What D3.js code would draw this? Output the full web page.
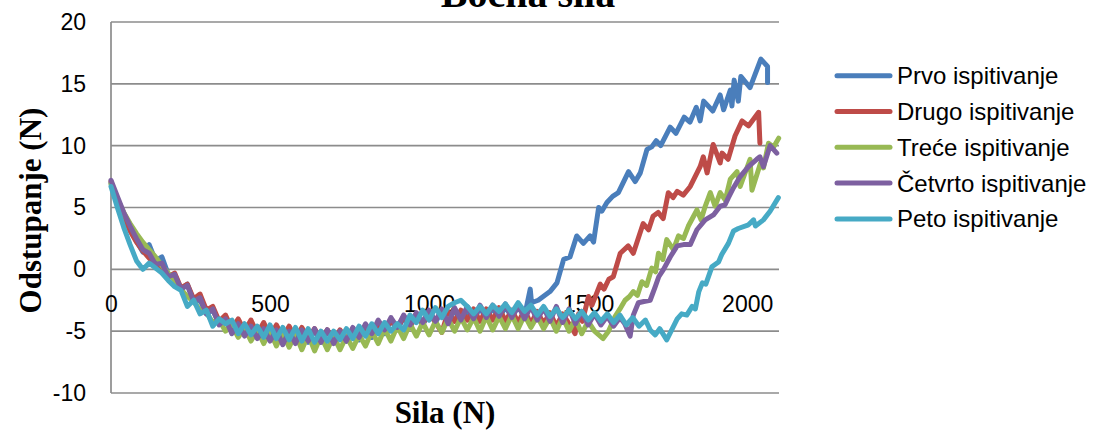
<!DOCTYPE html>
<html>
<head>
<meta charset="utf-8">
<script src="https://cdn.jsdelivr.net/npm/d3@7"></script>
<style>
  html, body { margin: 0; padding: 0; background: #fff; }
  svg { display: block; }
</style>
</head>
<body>
<svg id="chart" width="1094" height="433"></svg>
<script>
// ---------- DATA ----------
const chartTitle = "Bočna sila";
const xTitle = "Sila (N)";
const yTitle = "Odstupanje (N)";
const seriesNames = ["Prvo ispitivanje", "Drugo ispitivanje", "Treće ispitivanje", "Četvrto ispitivanje", "Peto ispitivanje"];
const seriesColors = ["#4A7EBB", "#BE4B48", "#98B954", "#7D60A0", "#46AAC5"];
const xTicks = [0, 500, 1000, 1500, 2000];
const yTicks = [-10, -5, 0, 5, 10, 15, 20];

// common force grid for the low (noisy) part of every test
const forceGrid = [0,20,40,60,80,100,120,140,160,180,200,220,240,260,280,300,320,340,360,380,400,420,440,460,480,500,520,540,560,580,600,620,640,660,680,700,720,740,760,780,800,820,840,860,880,900,920,940,960,980,1000,1020,1040,1060,1080,1100,1120,1140,1160,1180,1200,1220,1240,1260,1280,1300,1320,1340,1360,1380,1400,1420,1440,1460,1480,1500,1520,1540,1560,1580,1600,1620,1640,1660,1680,1700];

const prvoBase = [7.0,5.6,4.3,3.2,2.3,1.4,2.0,0.7,1.0,-0.4,
  -0.6,-1.6,-1.2,-2.6,-2.5,-3.6,-3.3,-4.4,-3.9,-4.9,
  -4.3,-5.2,-4.5,-5.4,-4.6,-5.6,-4.8,-5.7,-4.9,-5.8,
  -4.9,-5.9,-4.9,-5.9,-4.9,-5.9,-5.0,-5.8,-4.9,-5.7,
  -4.7,-5.5,-4.4,-5.2,-4.1,-4.9,-3.9,-4.7,-3.7,-4.5,
  -3.5,-4.3,-3.3,-4.2,-3.3,-4.1,-3.2,-4.1,-3.1,-4.0,
  -3.1,-4.0,-3.0,-3.9,-3.0,-3.8];
const prvoRise = [[1318,-1.6],[1322,-2.7],[1343,-2.5],[1380,-1.8],[1402,-1.1],[1423,0.8],[1443,1.0],[1464,2.7],[1485,2.1],[1506,2.7],[1517,2.2],[1533,5.0],[1543,4.7],[1559,5.4],[1577,5.9],[1595,6.2],[1627,7.9],[1648,7.1],[1664,7.8],[1685,9.7],[1700,9.9],[1714,10.4],[1728,10.0],[1758,11.5],[1776,11.0],[1802,12.3],[1820,11.9],[1840,13.1],[1852,12.0],[1863,13.6],[1892,12.8],[1915,14.1],[1926,12.9],[1947,14.5],[1952,13.2],[1959,15.3],[1972,13.6],[1980,15.6],[2009,14.7],[2043,17.0],[2064,16.4],[2064,15.1]];

const drugoBase = [7.1,5.5,4.2,3.1,2.2,1.5,0.9,0.3,-0.1,-0.6,
  -0.3,-1.5,-1.2,-2.4,-2.0,-3.3,-3.0,-4.2,-3.7,-4.8,
  -4.0,-5.0,-4.1,-5.2,-4.3,-5.4,-4.5,-5.5,-4.6,-5.6,
  -4.7,-5.6,-4.8,-5.7,-4.9,-5.7,-4.9,-5.6,-4.8,-5.5,
  -4.6,-5.3,-4.3,-5.0,-4.1,-4.8,-3.8,-4.6,-3.6,-4.4,
  -3.5,-4.3,-5.1,-3.4,-4.2,-3.3,-4.1,-3.2,-4.2,-3.2,
  -4.1,-3.1,-4.2,-3.3,-4.3,-3.3,-4.4,-3.4,-4.4,-3.5,
  -4.6,-3.6,-4.4];
const drugoRise = [[1459,-5.2],[1470,-3.6],[1482,-4.2],[1501,-2.2],[1512,-2.9],[1538,-1.2],[1550,-1.6],[1565,-0.8],[1579,-0.6],[1601,1.3],[1626,1.9],[1642,1.3],[1673,3.7],[1690,3.2],[1704,4.3],[1720,4.6],[1736,4.1],[1752,6.2],[1767,5.8],[1780,6.3],[1799,6.0],[1821,6.7],[1852,8.3],[1862,9.1],[1874,7.8],[1893,10.1],[1915,8.6],[1921,9.4],[1940,8.9],[1962,10.8],[1984,12.0],[2004,11.6],[2036,12.7],[2040,10.2]];

const treceBase = [6.9,5.7,4.6,3.7,2.9,2.2,1.6,1.0,0.3,-0.3,
  -0.9,-1.6,-2.2,-2.6,-3.3,-3.5,-4.3,-4.1,-5.0,-4.5,
  -5.5,-4.7,-5.8,-4.9,-6.0,-5.0,-6.2,-5.1,-6.3,-5.2,
  -6.5,-5.3,-6.6,-5.4,-6.5,-5.4,-6.5,-5.4,-6.4,-5.3,
  -6.2,-5.0,-6.0,-4.8,-5.8,-4.6,-5.6,-4.4,-5.4,-4.3,
  -5.3,-4.2,-5.1,-4.0,-5.0,-3.9,-4.9,-3.9,-5.0,-3.8,
  -4.9,-3.8,-4.8,-3.7,-4.8,-3.7,-4.7,-3.8,-4.8,-3.9,
  -5.0,-3.9,-5.0,-4.0,-5.2,-4.2,-5.0];
const treceRise = [[1547,-5.6],[1564,-5.0],[1585,-3.8],[1600,-3.2],[1616,-2.5],[1630,-2.2],[1642,-1.8],[1655,-2.1],[1669,-1.0],[1684,-1.3],[1700,0.1],[1712,-0.2],[1721,1.3],[1735,0.8],[1747,2.4],[1768,1.6],[1784,2.7],[1800,2.5],[1815,3.5],[1842,4.8],[1855,4.0],[1868,5.1],[1884,6.2],[1899,5.1],[1915,6.2],[1931,5.6],[1947,7.3],[1968,7.9],[1978,6.7],[2009,8.9],[2015,6.4],[2042,8.6],[2051,8.2],[2067,10.2],[2083,9.9],[2099,10.6]];

const cetvrtoBase = [7.2,5.9,4.6,3.5,2.5,1.6,1.3,0.4,0.5,-0.6,
  -0.4,-1.6,-1.3,-2.6,-2.3,-3.6,-3.2,-4.5,-4.0,-5.2,
  -4.4,-5.4,-4.6,-5.6,-4.8,-5.8,-4.9,-6.1,-5.0,-6.0,
  -4.9,-5.8,-4.8,-5.9,-4.9,-6.0,-5.0,-5.8,-4.7,-5.5,
  -4.4,-5.2,-4.1,-4.9,-3.9,-4.7,-3.7,-4.5,-3.5,-4.3,
  -3.3,-4.2,-3.2,-4.4,-3.1,-4.1,-3.0,-4.0,-2.9,-3.9,
  -2.9,-3.8,-2.8,-3.9,-2.9,-4.0,-3.0,-4.1,-3.1,-4.2,
  -3.0,-4.3,-3.2,-4.4,-3.4,-4.5,-3.6,-4.5,-3.8,-4.6,
  -3.9];
const cetvrtoRise = [[1615,-4.4],[1632,-5.4],[1642,-3.7],[1658,-2.7],[1675,-2.6],[1695,-2.5],[1711,-1.4],[1722,-0.6],[1737,0.0],[1758,1.0],[1780,1.9],[1800,2.0],[1821,2.0],[1842,3.2],[1868,4.0],[1894,4.4],[1915,5.1],[1930,5.2],[1941,5.8],[1957,6.6],[1978,7.5],[2004,8.3],[2030,8.9],[2040,9.1],[2051,8.3],[2072,10.0],[2093,9.4]];

const petoBase = [6.7,5.0,3.4,2.0,0.7,0.0,0.5,0.1,-0.3,-0.9,
  -1.4,-1.7,-3.0,-2.5,-3.6,-3.3,-4.6,-4.0,-4.4,-4.1,
  -5.2,-4.4,-5.3,-4.6,-5.5,-4.5,-5.6,-4.7,-5.7,-4.7,
  -5.8,-4.8,-5.9,-5.0,-5.8,-5.0,-5.7,-4.8,-5.6,-4.6,
  -5.4,-4.4,-5.2,-4.3,-5.0,-4.4,-4.9,-3.7,-4.3,-3.3,
  -4.1,-3.1,-3.9,-3.0,-2.7,-2.5,-3.0,-3.6,-3.0,-3.6,
  -2.9,-3.4,-2.8,-3.5,-2.7,-3.4,-2.9,-3.7,-3.0,-3.8,
  -3.2,-3.9,-3.3,-4.0,-3.4,-4.1,-3.5,-4.2,-3.6,-4.3,
  -3.7,-4.5,-3.9,-4.6,-4.1];
const petoRise = [[1695,-4.9],[1711,-5.3],[1725,-4.8],[1747,-5.7],[1780,-4.0],[1794,-3.6],[1810,-3.7],[1827,-3.0],[1837,-3.2],[1848,-1.8],[1859,-1.1],[1870,-1.2],[1889,0.2],[1910,0.6],[1920,1.2],[1941,2.1],[1957,3.1],[1972,3.3],[2004,3.6],[2020,4.0],[2026,3.5],[2051,4.0],[2072,4.7],[2098,5.8]];

// ---------- BUILD ----------
function build(base, rise) {
  return base.map((y, i) => [forceGrid[i], y]).concat(rise);
}
const series = [
  build(prvoBase, prvoRise),
  build(drugoBase, drugoRise),
  build(treceBase, treceRise),
  build(cetvrtoBase, cetvrtoRise),
  build(petoBase, petoRise)
];

const svg = d3.select("#chart");
const plot = { left: 111, right: 779, top: 22, bottom: 393 };
const x = d3.scaleLinear().domain([0, 2100]).range([plot.left, plot.right]);
const y = d3.scaleLinear().domain([-10, 20]).range([plot.bottom, plot.top]);

const gridColor = "#8C8C8C";
const sans = "'Liberation Sans', Arial, sans-serif";
const serif = "'Liberation Serif', 'Times New Roman', serif";
const plainFmt = d => String(d);

// gridlines
svg.append("g").selectAll("line").data(yTicks).join("line")
  .attr("x1", plot.left).attr("x2", plot.right)
  .attr("y1", d => y(d)).attr("y2", d => y(d))
  .attr("stroke", gridColor).attr("stroke-width", 1.7);

// left axis line
svg.append("line")
  .attr("x1", plot.left).attr("x2", plot.left)
  .attr("y1", plot.top).attr("y2", plot.bottom)
  .attr("stroke", gridColor).attr("stroke-width", 1.7);

// y axis labels
const yAxis = svg.append("g").attr("transform", `translate(${plot.left},0)`)
  .call(d3.axisLeft(y).tickValues(yTicks).tickSize(0).tickPadding(25).tickFormat(plainFmt));
yAxis.select(".domain").remove();
yAxis.selectAll("text").attr("font-family", sans).attr("font-size", 23).attr("fill", "#000");

// x axis labels, placed on the y=0 line
const xAxis = svg.append("g").attr("transform", `translate(0,${y(0)})`)
  .call(d3.axisBottom(x).tickValues(xTicks).tickSize(0).tickPadding(26).tickFormat(plainFmt));
xAxis.select(".domain").remove();
xAxis.selectAll("text").attr("font-family", sans).attr("font-size", 23).attr("fill", "#000");

// lines
const line = d3.line().x(d => x(d[0])).y(d => y(d[1]));
svg.append("g").selectAll("path").data(series).join("path")
  .attr("d", line)
  .attr("fill", "none")
  .attr("stroke", (d, i) => seriesColors[i])
  .attr("stroke-width", 5)
  .attr("stroke-linejoin", "round")
  .attr("stroke-linecap", "round");

// titles
svg.append("text").text(chartTitle)
  .attr("x", 528).attr("y", 7)
  .attr("text-anchor", "middle")
  .attr("font-family", serif).attr("font-weight", "bold").attr("font-size", 40);

svg.append("text").text(xTitle)
  .attr("x", (plot.left + plot.right) / 2).attr("y", 423)
  .attr("text-anchor", "middle")
  .attr("font-family", serif).attr("font-weight", "bold").attr("font-size", 31);

svg.append("text").text(yTitle)
  .attr("transform", `translate(41,${(plot.top + plot.bottom) / 2 + 3}) rotate(-90)`)
  .attr("text-anchor", "middle")
  .attr("font-family", serif).attr("font-weight", "bold").attr("font-size", 31);

// legend
const legend = svg.append("g").selectAll("g").data(seriesNames).join("g")
  .attr("transform", (d, i) => `translate(0,${75.7 + i * 35.8})`);
legend.append("line")
  .attr("x1", 837).attr("x2", 890).attr("y1", 0).attr("y2", 0)
  .attr("stroke", (d, i) => seriesColors[i])
  .attr("stroke-width", 5).attr("stroke-linecap", "round");
legend.append("text").text(d => d)
  .attr("x", 897).attr("y", 0).attr("dy", "0.35em")
  .attr("font-family", sans).attr("font-size", 24).attr("fill", "#000");
</script>
</body>
</html>
